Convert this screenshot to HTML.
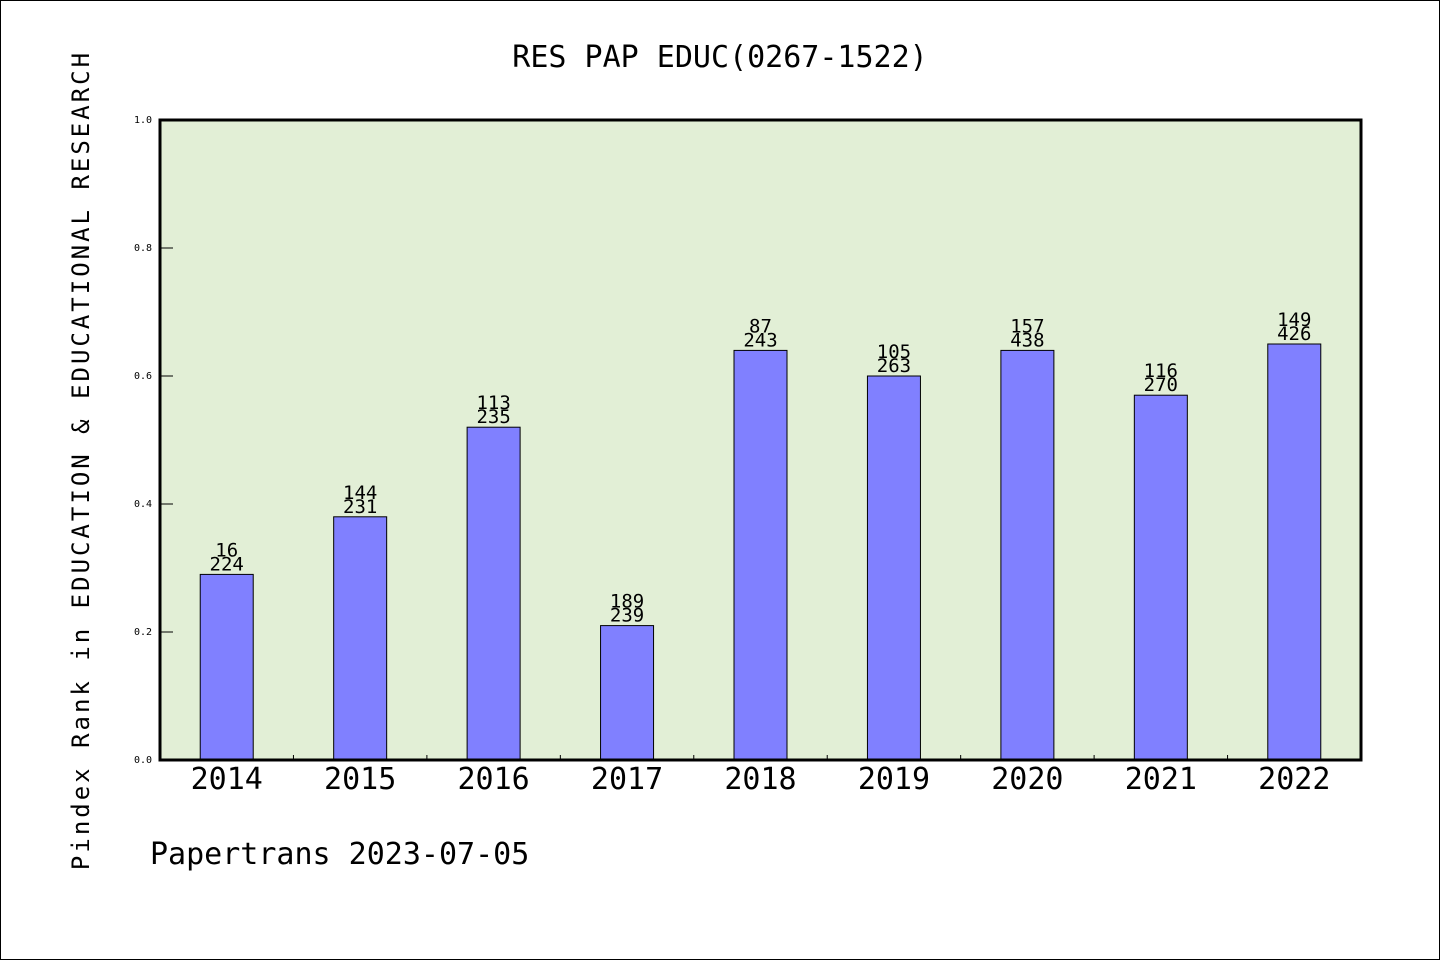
<!DOCTYPE html>
<html><head><meta charset="utf-8"><style>
html,body{margin:0;padding:0;background:#fff;}
svg{display:block;}
text{font-family:"WenQuanYi Zen Hei","DejaVu Sans Mono","Liberation Mono",monospace;}
</style></head><body>
<svg id="chart" width="1440" height="960" xmlns="http://www.w3.org/2000/svg">
<rect x="0.5" y="0.5" width="1439" height="959" fill="#fff" stroke="#000" stroke-width="1"/>
<text x="720" y="67" font-size="30" text-anchor="middle">RES PAP EDUC(0267-1522)</text>
<rect x="160" y="120" width="1201" height="640" fill="#e2efd6"/>
<g id="marks"></g>
<rect x="160" y="120" width="1201" height="640" fill="none" stroke="#000" stroke-width="3"/>
<text transform="translate(89,460) rotate(-90)" font-size="24" text-anchor="middle" letter-spacing="3">Pindex Rank in EDUCATION &amp; EDUCATIONAL RESEARCH</text>
<text x="150" y="864" font-size="30">Papertrans 2023-07-05</text>
</svg>
<script>
const categories = ["2014","2015","2016","2017","2018","2019","2020","2021","2022"];
const values = [0.29,0.38,0.52,0.21,0.64,0.60,0.64,0.57,0.65];
const ranks = ["16","144","113","189","87","105","157","116","149"];
const totals = ["224","231","235","239","243","263","438","270","426"];
const yTicks = [0,0.2,0.4,0.6,0.8,1.0];
const yTickLabels = ["0.0","0.2","0.4","0.6","0.8","1.0"];

const NS="http://www.w3.org/2000/svg";
const X0=160,X1=1361,Y0=760,Y1=120;
const slot=(X1-X0)/categories.length;
const xC=i=>X0+(i+0.5)*slot;
const yS=v=>Y0-(v)*(Y0-Y1);
const g=document.getElementById('marks');
function mk(tag,attrs,txt){const e=document.createElementNS(NS,tag);for(const k in attrs)e.setAttribute(k,attrs[k]);if(txt!==undefined)e.textContent=txt;g.appendChild(e);return e;}

yTicks.forEach((t,i)=>{
  const l=mk('line',{x1:X0,x2:X0+13,y1:yS(t),y2:yS(t),stroke:'#000','stroke-width':1});
  
  
  const tx=mk('text',{x:X0-8,y:yS(t)+3,'font-size':10,'text-anchor':'end'},yTickLabels[i]);
  
  
});
for(let i=1;i<categories.length;i++){
  const x=X0+i*slot;
  const l=mk('line',{x1:x,x2:x,y1:Y0,y2:Y0-5,stroke:'#000','stroke-width':1});
  
  
}
const bw=53;
categories.forEach((c,i)=>{
  const y=yS(values[i]);
  const r=mk('rect',{x:xC(i)-bw/2,y:y,width:bw,height:Y0-y,fill:'#8080ff',stroke:'#000','stroke-width':1});
  
  
  const t1=mk('text',{x:xC(i),y:y-18,'font-size':19,'text-anchor':'middle'},ranks[i]);
  
  
  const t2=mk('text',{x:xC(i),y:y-4,'font-size':19,'text-anchor':'middle'},totals[i]);
  
  
  const xl=mk('text',{x:xC(i),y:789,'font-size':30,'text-anchor':'middle'},c);
  
  
});
</script>
</body></html>
